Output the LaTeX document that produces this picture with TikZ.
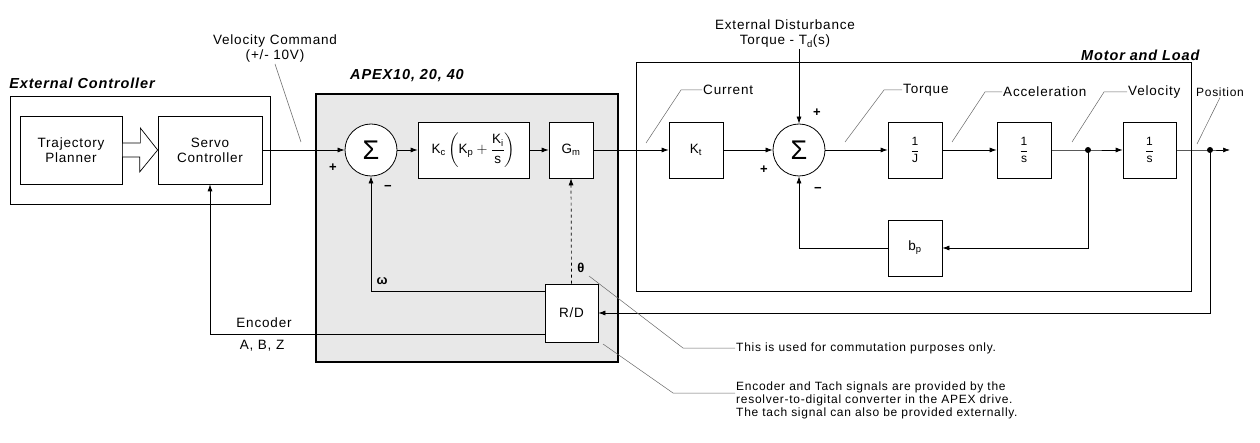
\documentclass[tikz,border=0pt]{standalone}
\usepackage{amsmath}
\usepackage{fontspec}
\setmainfont{Liberation Sans}[LetterSpace=6]
\usetikzlibrary{arrows.meta,positioning,calc}

\begin{document}
\begin{tikzpicture}[
    x=1pt, y=-1pt,
    >={Latex[length=7pt,width=5pt]},
    font=\fontsize{13.5}{15}\selectfont,
    blockNode/.style={
        draw, line width=0.7pt, fill=white,
        minimum width=#1, minimum height=56pt,
        align=center, inner sep=1pt
    },
    blockNode/.default=54pt,
    sumNode/.style={
        circle, draw, line width=0.8pt, fill=white,
        minimum size=52pt, inner sep=0pt,
        font=\fontsize{27}{27}\selectfont
    },
    fracText/.style={font=\fontsize{12}{14}\selectfont},
    bigBox/.style={draw, line width=1pt},
    titleText/.style={font=\fontsize{14.5}{16}\selectfont\bfseries\itshape},
    labelText/.style={align=center, inner sep=1pt},
    signText/.style={inner sep=0pt, font=\fontsize{13}{13}\selectfont\bfseries},
    noteText/.style={font=\fontsize{12}{13}\selectfont, align=left, inner sep=1pt},
    flow/.style={->, line width=0.7pt},
    leader/.style={draw=black!60, line width=0.5pt}
]
\useasboundingbox (0,0) rectangle (1260,443);

% external controller
\node[bigBox, minimum width=260pt, minimum height=108pt] (extBox) at (140,151) {};
\node[titleText] (extTitle) at (82,83) {External Controller};
\node[blockNode=102pt, minimum height=68pt] (planner) at (71,150) {Trajectory\\Planner};
\node[blockNode=104pt, minimum height=68pt] (servo) at (210,150) {Servo\\Controller};
\draw[line width=0.7pt, fill=white] ([yshift=7pt]planner.east) -- ++(18,0) -- ++(0,-15)
  -- (servo.west) -- ++(-18,22) -- ++(0,-15) -- ([yshift=-7pt]planner.east) -- cycle;

% APEX drive
\node[bigBox, fill=gray!18, line width=1.3pt, minimum width=302pt, minimum height=268pt] (apexBox) at (467,228) {};
\node[titleText] (apexTitle) at (407,76) {APEX10, 20, 40};
\node[sumNode] (sumA) at (371,150) {Σ};
\node[blockNode=111pt] (pid) at (473.5,150)
  {K\textsubscript{c}\,$\left(\text{K}_{\text{p}}+\dfrac{\text{K}_{\text{i}}}{\text{s}}\right)$};
\node[blockNode=44pt] (gm) at (571,150) {G\textsubscript{m}};
\node[blockNode=53pt, minimum height=58pt] (rd) at (571.5,313) {R/D};

% motor and load
\node[bigBox, minimum width=555pt, minimum height=229pt] (motorBox) at (913.5,177.5) {};
\node[titleText, anchor=east] (motorTitle) at (1203,55) {Motor and Load};
\node[blockNode] (kt) at (696,150) {K\textsubscript{t}};
\node[sumNode] (sumB) at (799,150) {Σ};
\node[blockNode, fracText] (invJ) at (915,150) {$\dfrac{\text{1}}{\text{J}}$};
\node[blockNode, fracText] (intA) at (1024,150) {$\dfrac{\text{1}}{\text{s}}$};
\node[blockNode=53pt, fracText] (intB) at (1149.5,150) {$\dfrac{\text{1}}{\text{s}}$};
\node[blockNode] (bp) at (915,248) {b\textsubscript{p}};
\coordinate (dotV) at (1088,150);
\coordinate (dotP) at (1210,150);
\coordinate (outEnd) at (1230,150);

% signal flow
\draw[flow] (servo.east) -- (sumA.west);
\draw[flow] (sumA.east) -- (pid.west);
\draw[flow] (pid.east) -- (gm.west);
\draw[flow] (gm.east) -- (kt.west);
\draw[flow, dashed] (rd.north) -- (gm.south);
\draw[flow] ([yshift=22pt]rd.west) -| (sumA.south);
\draw[flow] ([yshift=-21pt]rd.west) -| (servo.south);
\draw[flow] (dotP) |- (rd.east);
\draw[flow] (kt.east) -- (sumB.west);
\draw[flow] (sumB.east) -- (invJ.west);
\draw[flow] (invJ.east) -- (intA.west);
\draw[flow] (intA.east) -- (dotV) -- (intB.west);
\draw[flow] (intB.east) -- (dotP) -- (outEnd);
\draw[flow] (dotV) |- (bp.east);
\draw[flow] (bp.west) -| (sumB.south);
\fill (dotV) circle (3pt);
\fill (dotP) circle (3pt);

% disturbance input
\node[labelText] (distLbl) at (785,34) {External Disturbance\\Torque - T\textsubscript{d}(s)};
\draw[flow] (distLbl.south -| sumB.north) -- (sumB.north);

% signs and feedback symbols
\node[signText] at (333,168) {+};
\node[signText] at (388,188) {−};
\node[signText] at (817,113) {+};
\node[signText] at (764,170) {+};
\node[signText] at (818,190) {−};
\node[signText] (omegaLbl) at (382,281) {ω};
\node[signText] (thetaLbl) at (581,268) {θ};

% signal names
\node[labelText] (velCmd) at (275,49) {Velocity Command\\(+/- 10V)};
\coordinate (vcTip) at (301,142);
\draw[leader] (velCmd.south) -- (vcTip);

\node[labelText, anchor=west] (curLbl) at (702,90) {Current};
\coordinate (curTip) at (646,143);
\draw[leader] (curTip) -- ++(35,-53) -- (curLbl.west);

\node[labelText, anchor=west] (torqueLbl) at (902,90) {Torque};
\coordinate (torqueTip) at (845,142);
\draw[leader] (torqueTip) -- ++(39,-52) -- (torqueLbl.west);

\node[labelText, anchor=west] (accLbl) at (1002,92) {Acceleration};
\coordinate (accTip) at (952,142);
\draw[leader] (accTip) -- ++(33,-50) -- (accLbl.west);

\node[labelText, anchor=west] (velLbl) at (1127,92) {Velocity};
\coordinate (velTip) at (1072,142);
\draw[leader] (velTip) -- ++(32,-50) -- (velLbl.west);

\node[labelText, font=\fontsize{12}{14}\selectfont] (posLbl) at (1220,92) {Position};
\coordinate (posTip) at (1197,144);
\draw[leader] (posTip) -- (posLbl.south);

\node[labelText] (encLbl) at (264,323) {Encoder};
\node[labelText] (abzLbl) at (262,346) {A, B, Z};

% notes
\node[noteText, anchor=west] (noteA) at (735,348) {This is used for commutation purposes only.};
\coordinate (thetaTip) at (589,276);
\draw[leader] (thetaTip) -- ++(94,72) -- (noteA.west);

\node[noteText, anchor=west] (noteB) at (735,400)
  {Encoder and Tach signals are provided by the\\resolver-to-digital converter in the APEX drive.\\The tach signal can also be provided externally.};
\coordinate (rdTip) at (603,344);
\draw[leader] (rdTip) -- ++(70,49) -- ([yshift=7pt]noteB.west);

\end{tikzpicture}
\end{document}
